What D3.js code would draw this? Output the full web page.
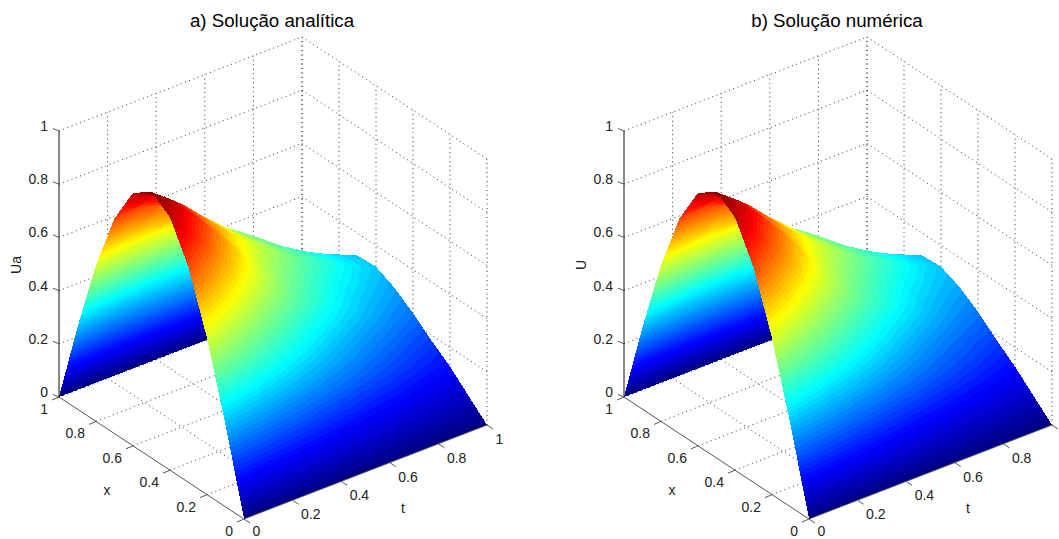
<!DOCTYPE html>
<html>
<head>
<meta charset="utf-8">
<script src="https://cdn.jsdelivr.net/npm/d3@7"></script>
<style>
  html, body { margin: 0; padding: 0; background: #fff; }
  svg { display: block; }
  text { font-family: "Liberation Sans", Arial, sans-serif; fill: #222; }
</style>
</head>
<body>
<svg id="chart" width="1059" height="539"></svg>
<script>
const xGrid = [0, 0.1, 0.2, 0.3, 0.4, 0.5, 0.6, 0.7, 0.8, 0.9, 1];
const tGrid = [0, 0.1, 0.2, 0.3, 0.4, 0.5, 0.6, 0.7, 0.8, 0.9, 1];
const xTicks = [0, 0.2, 0.4, 0.6, 0.8, 1];
const tTicks = [0, 0.2, 0.4, 0.6, 0.8, 1];
const zTicks = [0, 0.2, 0.4, 0.6, 0.8, 1];

// rows follow xGrid, columns follow tGrid
const uAnalytic = [
  [0, 0, 0, 0, 0, 0, 0, 0, 0, 0, 0],
  [.309, .264, .225, .192, .164, .140, .120, .102, .087, .075, .064],
  [.588, .505, .434, .373, .320, .275, .236, .203, .174, .150, .128],
  [.809, .700, .600, .515, .443, .381, .327, .281, .242, .208, .180],
  [.951, .850, .740, .635, .550, .478, .415, .360, .312, .272, .237],
  [1, .930, .830, .720, .610, .530, .470, .410, .360, .320, .286],
  [.951, .900, .840, .750, .660, .580, .520, .460, .410, .360, .320],
  [.809, .820, .800, .740, .660, .580, .510, .455, .400, .355, .316],
  [.588, .610, .620, .620, .600, .560, .500, .425, .360, .315, .270],
  [.309, .330, .350, .360, .360, .350, .330, .290, .250, .210, .160],
  [0, 0, 0, 0, 0, 0, 0, 0, 0, 0, 0]
];
const uNumeric = [
  [0, 0, 0, 0, 0, 0, 0, 0, 0, 0, 0],
  [.309, .264, .225, .192, .164, .140, .120, .102, .087, .075, .064],
  [.588, .505, .434, .373, .320, .275, .236, .203, .174, .150, .128],
  [.809, .700, .600, .515, .443, .381, .327, .281, .242, .208, .182],
  [.951, .850, .740, .635, .550, .478, .415, .360, .312, .272, .242],
  [1, .930, .830, .720, .610, .530, .470, .410, .360, .320, .290],
  [.951, .900, .840, .750, .660, .580, .520, .460, .410, .360, .320],
  [.809, .820, .800, .740, .660, .580, .510, .455, .400, .355, .316],
  [.588, .610, .620, .620, .600, .560, .500, .425, .360, .315, .270],
  [.309, .330, .350, .360, .360, .350, .330, .290, .250, .210, .160],
  [0, 0, 0, 0, 0, 0, 0, 0, 0, 0, 0]
];

const svg = d3.select("#chart");
const levels = 64;

// matlab jet
function jet(k) {
  const v = (k + 0.5) / levels;
  const c = (a) => Math.round(255 * Math.max(0, Math.min(1, a)));
  const r = c(Math.min(4 * v - 1.5, -4 * v + 4.5));
  const g = c(Math.min(4 * v - 0.5, -4 * v + 3.5));
  const b = c(Math.min(4 * v + 0.5, -4 * v + 2.5));
  return `rgb(${r},${g},${b})`;
}

// clip a polygon of [px, py, u] against one level of u
function clipBand(poly, limit, keepAbove) {
  const out = [];
  poly.forEach((a, i) => {
    const b = poly[(i + 1) % poly.length];
    const inA = keepAbove ? a[2] >= limit : a[2] <= limit;
    const inB = keepAbove ? b[2] >= limit : b[2] <= limit;
    if (inA) out.push(a);
    if (inA !== inB) {
      const f = (limit - a[2]) / (b[2] - a[2]);
      out.push([a[0] + f * (b[0] - a[0]), a[1] + f * (b[1] - a[1]), limit]);
    }
  });
  return out;
}

function drawPanel(opts) {
  const g = svg.append("g");

  // oblique axes, the picture has no visible perspective
  const xDx = d3.scaleLinear().domain([0, 1]).range([0, 59 - 244]);
  const xDy = d3.scaleLinear().domain([0, 1]).range([0, 397 - 519]);
  const tDx = d3.scaleLinear().domain([0, 1]).range([0, 487 - 244]);
  const tDy = d3.scaleLinear().domain([0, 1]).range([0, 425 - 519]);
  const zDy = d3.scaleLinear().domain([0, 1]).range([0, -266]);

  const project = (x, t, z) => [
    244 + opts.dx + xDx(x) + tDx(t),
    519 + xDy(x) + tDy(t) + zDy(z)
  ];
  const line = d3.line();

  // grid walls and floor
  const gridLines = [];
  zTicks.forEach((z) => {
    gridLines.push([project(1, 0, z), project(1, 1, z)]);
    gridLines.push([project(1, 1, z), project(0, 1, z)]);
  });
  tTicks.filter((t) => t > 0).forEach((t) => {
    gridLines.push([project(1, t, 0), project(1, t, 1)]);
    gridLines.push([project(1, t, 0), project(0, t, 0)]);
  });
  xTicks.filter((x) => x > 0).forEach((x) => {
    gridLines.push([project(x, 1, 0), project(x, 1, 1)]);
    gridLines.push([project(x, 0, 0), project(x, 1, 0)]);
  });
  gridLines.push([project(0, 1, 0), project(0, 1, 1)]);

  g.append("g").selectAll("path")
    .data(gridLines)
    .join("path")
    .attr("d", (d) => line(d))
    .attr("fill", "none")
    .attr("stroke", "#333")
    .attr("stroke-width", 1)
    .attr("stroke-dasharray", "1 3.5");

  // surface, back to front, one polygon per colour band
  const bands = [];
  for (let i = xGrid.length - 2; i >= 0; i--) {
    for (let j = tGrid.length - 2; j >= 0; j--) {
      const corner = (a, b) => {
        const p = project(xGrid[a], tGrid[b], opts.values[a][b]);
        return [p[0], p[1], opts.values[a][b]];
      };
      const a = corner(i + 1, j + 1);
      const b = corner(i + 1, j);
      const c = corner(i, j + 1);
      const d = corner(i, j);
      [[a, b, c], [b, c, d]].forEach((tri) => {
        const us = tri.map((p) => p[2]);
        const lo = Math.floor(d3.min(us) * levels);
        const hi = Math.min(levels - 1, Math.floor(d3.max(us) * levels));
        for (let k = lo; k <= hi; k++) {
          let poly = clipBand(tri, k / levels, true);
          if (poly.length) poly = clipBand(poly, (k + 1) / levels, false);
          if (poly.length > 2) bands.push({ poly, color: jet(k) });
        }
      });
    }
  }

  // no antialiasing here, otherwise the cell edges show up as a mesh
  g.append("g").attr("shape-rendering", "crispEdges").selectAll("path")
    .data(bands)
    .join("path")
    .attr("d", (d) => line(d.poly.map((p) => [p[0], p[1]])) + "Z")
    .attr("fill", (d) => d.color);

  // axis lines
  const axisLines = [
    { p: [project(1, 0, 0), project(1, 0, 1)], c: "#111" },
    { p: [project(1, 0, 0), project(0, 0, 0)], c: "#555" },
    { p: [project(0, 0, 0), project(0, 1, 0)], c: "#555" }
  ];
  zTicks.forEach((z) => {
    const p = project(1, 0, z);
    axisLines.push({ p: [p, [p[0] - 6, p[1] - 2.5]], c: "#555" });
  });
  xTicks.forEach((x) => {
    const p = project(x, 0, 0);
    axisLines.push({ p: [p, [p[0] - 7, p[1] + 3]], c: "#555" });
  });
  tTicks.forEach((t) => {
    const p = project(0, t, 0);
    axisLines.push({ p: [p, [p[0] + 6, p[1] + 4]], c: "#555" });
  });

  g.append("g").selectAll("path")
    .data(axisLines)
    .join("path")
    .attr("d", (d) => line(d.p))
    .attr("fill", "none")
    .attr("stroke", (d) => d.c)
    .attr("stroke-width", 1);

  // tick labels
  const addText = (x, y, txt, anchor) => g.append("text")
    .attr("x", x).attr("y", y)
    .attr("text-anchor", anchor || "middle")
    .attr("dominant-baseline", "central")
    .attr("font-size", 14)
    .text(txt);

  zTicks.forEach((z) => {
    const p = project(1, 0, z);
    addText(p[0] - 11, p[1] - 5, String(z), "end");
  });
  xTicks.forEach((x) => {
    const p = project(x, 0, 0);
    addText(p[0] - 11, p[1] + 12, String(x), "end");
  });
  tTicks.filter((t) => t < 1 || opts.showLastT).forEach((t) => {
    const p = project(0, t, 0);
    // keep the first label inside the bottom edge
    addText(p[0] + 8.5, Math.min(p[1] + 14, 530.5), String(t), "start");
  });

  addText(107 + opts.dx, 490, "x");
  addText(403 + opts.dx, 508, "t");
  g.append("text")
    .attr("transform", `translate(${16 + opts.dx},265) rotate(-90)`)
    .attr("text-anchor", "middle")
    .attr("dominant-baseline", "central")
    .attr("font-size", 14)
    .text(opts.zLabel);

  g.append("text")
    .attr("x", 272 + opts.dx).attr("y", 20)
    .attr("text-anchor", "middle")
    .attr("dominant-baseline", "central")
    .attr("font-size", 18.7)
    .attr("style", "fill:#000")
    .text(opts.title);
}

drawPanel({ dx: 0, values: uAnalytic, title: "a) Solução analítica", zLabel: "Ua", showLastT: true });
drawPanel({ dx: 565, values: uNumeric, title: "b) Solução numérica", zLabel: "U", showLastT: false });
</script>
</body>
</html>
